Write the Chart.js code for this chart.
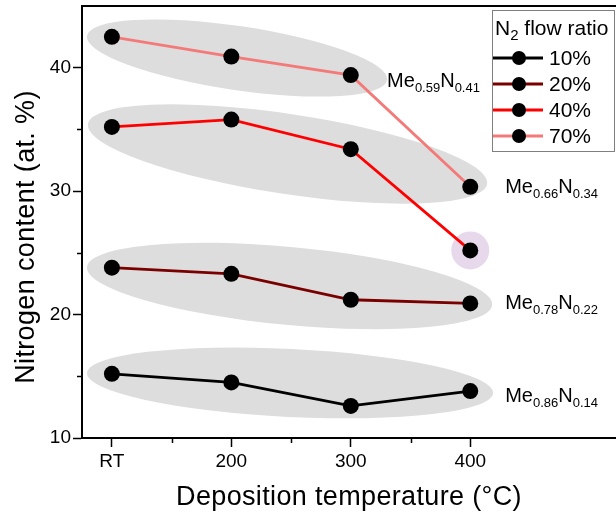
<!DOCTYPE html>
<html><head><meta charset="utf-8">
<script src="https://cdn.jsdelivr.net/npm/chart.js@4"></script>
<style>html,body{margin:0;padding:0;background:#fff}canvas{display:block}</style>
</head><body>
<canvas id="c" width="616" height="514"></canvas>
<script>
// ---------- data ----------
const categories   = ["RT", "200", "300", "400"];
const temperatures = [100, 200, 300, 400];
const flowRatios   = ["10%", "20%", "40%", "70%"];
const nitrogen10 = [15.2, 14.5, 12.6, 13.8];
const nitrogen20 = [23.8, 23.3, 21.2, 20.9];
const nitrogen40 = [35.2, 35.8, 33.4, 25.2];
const nitrogen70 = [42.5, 40.9, 39.4, 30.35];
const yTickValues  = [10, 20, 30, 40];
const yMinorValues = [15, 25, 35];
const xMinorValues = [150, 250, 350];
const compositionText = [
  ["Me", "0.59", "N", "0.41"],
  ["Me", "0.66", "N", "0.34"],
  ["Me", "0.78", "N", "0.22"],
  ["Me", "0.86", "N", "0.14"]
];

// ---------- styling / annotations ----------
const FONT = '"Liberation Sans", Arial, Helvetica, sans-serif';
const lineColors = ["#000000", "#7a0000", "#ff0000", "#f47a7a"];
// grey ellipses: end tips in data units, half thickness in px
const ellipseDefs = [
  {x1: 79.2, y1: 42.57, x2: 330.4, y2: 39.0,  b: 32},
  {x1: 80.0, y1: 35.44, x2: 414.1, y2: 30.58, b: 40},
  {x1: 79.2, y1: 23.85, x2: 418.3, y2: 20.78, b: 39},
  {x1: 79.2, y1: 15.27, x2: 419.1, y2: 13.65, b: 34}
];
const compositionAnchors = [
  {x: 330.4, y: 39.0},
  {x: 429.2, y: 30.42},
  {x: 429.2, y: 21.02},
  {x: 429.2, y: 13.48}
];

const series = [nitrogen10, nitrogen20, nitrogen40, nitrogen70];
const datasets = series.map((vals, i) => ({
  label: flowRatios[i],
  data: temperatures.map((t, j) => ({x: t, y: vals[j]})),
  borderColor: lineColors[i],
  borderWidth: 2.8,
  pointRadius: 8,
  pointHoverRadius: 8,
  pointBackgroundColor: "#000",
  pointBorderWidth: 0,
  tension: 0,
  fill: false
}));

const decorPlugin = {
  id: "decor",
  beforeDatasetsDraw(chart) {
    const {ctx, chartArea: ca, scales: {x, y}} = chart;
    ctx.save();
    ctx.beginPath();
    ctx.rect(ca.left, ca.top, ca.right - ca.left, ca.bottom - ca.top);
    ctx.clip();
    ctx.fillStyle = "#dddddd";
    ellipseDefs.forEach(e => {
      const px1 = x.getPixelForValue(e.x1), py1 = y.getPixelForValue(e.y1);
      const px2 = x.getPixelForValue(e.x2), py2 = y.getPixelForValue(e.y2);
      const cx = (px1 + px2) / 2, cy = (py1 + py2) / 2;
      const a = Math.hypot(px2 - px1, py2 - py1) / 2;
      const ang = Math.atan2(py2 - py1, px2 - px1);
      ctx.beginPath();
      ctx.ellipse(cx, cy, a, e.b, ang, 0, Math.PI * 2);
      ctx.fill();
    });
    // highlight circle on 40% / 400 °C point
    ctx.fillStyle = "#e8d8ec";
    ctx.beginPath();
    ctx.arc(x.getPixelForValue(temperatures[3]), y.getPixelForValue(nitrogen40[3]), 19, 0, Math.PI * 2);
    ctx.fill();
    ctx.restore();
  },
  afterDraw(chart) {
    const {ctx, chartArea: ca, scales: {x, y}} = chart;
    ctx.save();
    // top frame
    ctx.strokeStyle = "#000";
    ctx.lineWidth = 2;
    ctx.beginPath();
    ctx.moveTo(ca.left - 1, ca.top);
    ctx.lineTo(ca.right, ca.top);
    ctx.stroke();
    // minor ticks
    ctx.lineWidth = 1.5;
    yMinorValues.forEach(v => {
      const py = Math.round(y.getPixelForValue(v)) + 0.5;
      ctx.beginPath(); ctx.moveTo(ca.left - 5, py); ctx.lineTo(ca.left, py); ctx.stroke();
    });
    xMinorValues.forEach(v => {
      const px = Math.round(x.getPixelForValue(v)) + 0.5;
      ctx.beginPath(); ctx.moveTo(px, ca.bottom); ctx.lineTo(px, ca.bottom + 5); ctx.stroke();
    });
    // composition labels
    ctx.fillStyle = "#000";
    ctx.textBaseline = "alphabetic";
    ctx.textAlign = "left";
    compositionText.forEach((parts, i) => {
      let px = x.getPixelForValue(compositionAnchors[i].x);
      const py = y.getPixelForValue(compositionAnchors[i].y) + 7;
      parts.forEach((p, k) => {
        const sub = k % 2 === 1;
        ctx.font = (sub ? "13px " : "20px ") + FONT;
        ctx.fillText(p, px, sub ? py + 5 : py);
        px += ctx.measureText(p).width;
      });
    });
    // axis titles
    ctx.font = "27px " + FONT;
    ctx.letterSpacing = "0.35px";
    ctx.textAlign = "center";
    ctx.fillText("Deposition temperature (°C)", (ca.left + ca.right) / 2, 505);
    ctx.save();
    ctx.translate(34, 237);
    ctx.rotate(-Math.PI / 2);
    ctx.fillText("Nitrogen content (at. %)", 0, 0);
    ctx.restore();
    ctx.letterSpacing = "0px";
    // legend
    const L = {x: 492, y: 10, w: 123, h: 142};
    ctx.fillStyle = "#fff";
    ctx.fillRect(L.x, L.y, L.w, L.h);
    ctx.strokeStyle = "#808080";
    ctx.lineWidth = 1;
    ctx.strokeRect(L.x + 0.5, L.y + 0.5, L.w - 1, L.h - 1);
    ctx.fillStyle = "#000";
    ctx.textAlign = "left";
    ctx.font = "21px " + FONT;
    let tx = 495;
    ctx.fillText("N", tx, 35);
    tx += ctx.measureText("N").width;
    ctx.font = "15px " + FONT;
    ctx.fillText("2", tx, 40);
    tx += ctx.measureText("2").width;
    ctx.font = "21px " + FONT;
    ctx.fillText(" flow ratio", tx, 35);
    const rowY = [58, 84, 110, 136];
    chart.data.datasets.forEach((ds, i) => {
      const ry = rowY[i];
      ctx.strokeStyle = ds.borderColor;
      ctx.lineWidth = 3;
      ctx.beginPath(); ctx.moveTo(493, ry); ctx.lineTo(543, ry); ctx.stroke();
      ctx.fillStyle = "#000";
      ctx.beginPath(); ctx.arc(519, ry, 7, 0, Math.PI * 2); ctx.fill();
      ctx.font = "21px " + FONT;
      ctx.textBaseline = "middle";
      ctx.fillText(ds.label, 549, ry + 1);
      ctx.textBaseline = "alphabetic";
    });
    ctx.restore();
  }
};

new Chart(document.getElementById("c"), {
  type: "line",
  data: {datasets},
  options: {
    responsive: false,
    animation: false,
    events: [],
    layout: {padding: {top: 6, left: 0, right: 0, bottom: 0}, autoPadding: false},
    plugins: {legend: {display: false}, tooltip: {enabled: false}},
    scales: {
      x: {
        type: "linear",
        min: 75, max: 522,
        afterFit: s => { s.height = 76; s.paddingLeft = 0; s.paddingRight = 0; },
        afterBuildTicks: s => { s.ticks = temperatures.map(v => ({value: v})); },
        grid: {drawOnChartArea: false, drawTicks: true, tickLength: 9, tickColor: "#000", tickWidth: 1.5},
        border: {display: true, color: "#000", width: 2},
        ticks: {
          autoSkip: false, maxRotation: 0, padding: 3,
          color: "#000", font: {family: FONT, size: 19},
          callback: v => { const i = temperatures.indexOf(v); return i >= 0 ? categories[i] : ""; }
        }
      },
      y: {
        type: "linear",
        min: 10, max: 45,
        afterFit: s => { s.width = 82; s.paddingTop = 0; s.paddingBottom = 0; },
        afterBuildTicks: s => { s.ticks = yTickValues.map(v => ({value: v})); },
        grid: {drawOnChartArea: false, drawTicks: true, tickLength: 9, tickColor: "#000", tickWidth: 1.5},
        border: {display: true, color: "#000", width: 2},
        ticks: {padding: 2, color: "#000", font: {family: FONT, size: 19}}
      }
    }
  },
  plugins: [decorPlugin]
});
</script>
</body></html>
